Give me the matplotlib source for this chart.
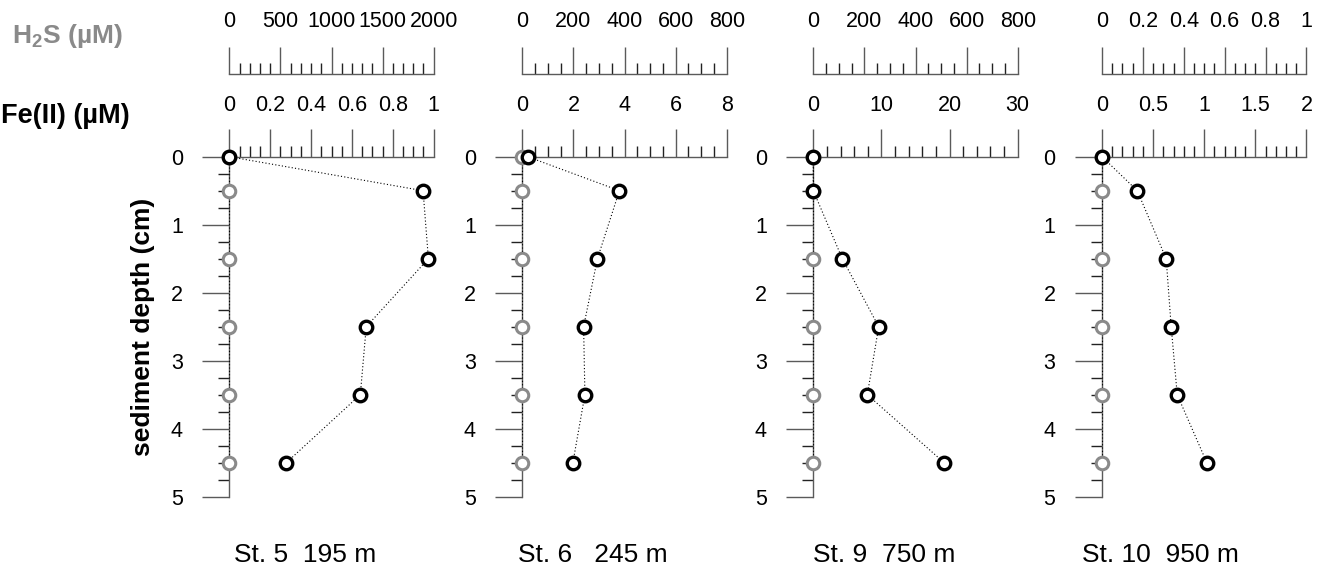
import matplotlib
matplotlib.use('Agg')
import matplotlib.pyplot as plt
from matplotlib.ticker import MultipleLocator, FuncFormatter

plt.rcParams['font.family'] = ['Liberation Sans', 'DejaVu Sans']
plt.rcParams['mathtext.fontset'] = 'custom'
plt.rcParams['mathtext.rm'] = 'Liberation Sans'
plt.rcParams['mathtext.bf'] = 'Liberation Sans:bold'

# data
depth = [0, 0.5, 1.5, 2.5, 3.5, 4.5]
stations = ['St. 5  195 m', 'St. 6   245 m', 'St. 9  750 m', 'St. 10  950 m']
fe_st5 = [0, 0.948, 0.974, 0.67, 0.641, 0.279]
fe_st6 = [0.21, 3.8, 2.94, 2.4, 2.45, 1.98]
fe_st9 = [0, 0, 4.26, 9.6, 7.93, 19.2]
fe_st10 = [0, 0.345, 0.628, 0.677, 0.736, 1.026]
h2s_st5 = [0, 0, 0, 0, 0, 0]
h2s_st6 = [0, 0, 0, 0, 0, 0]
h2s_st9 = [0, 0, 0, 0, 0, 0]
h2s_st10 = [0, 0, 0, 0, 0, 0]
fe_all = [fe_st5, fe_st6, fe_st9, fe_st10]
h2s_all = [h2s_st5, h2s_st6, h2s_st9, h2s_st10]

# axis ranges (max, major, minor)
fe_axis = [(1, 0.2, 0.05), (8, 2, 0.5), (30, 10, 2), (2, 0.5, 0.1)]
h2s_axis = [(2000, 500, 100), (800, 200, 50), (800, 200, 50), (1, 0.2, 0.05)]

W, H = 1320, 573
fig = plt.figure(figsize=(W / 100, H / 100), dpi=100)

x0s = [229.3, 522.3, 813.3, 1102]
pw = 204.4
ytop, ybot = 156.7, 496.7
lab_x = [234, 518, 813, 1082]

major_c = '#5a5a5a'
minor_c = '#222222'
fmt = FuncFormatter(lambda v, p: '{:g}'.format(round(v, 6)))
tsize = 15.5

for i in range(4):
    ax = fig.add_axes([x0s[i] / W, 1 - ybot / H, pw / W, (ybot - ytop) / H])
    tw = ax.twiny()
    ax.set_zorder(tw.get_zorder() + 1)
    ax.patch.set_visible(False)

    fmax, fmaj, fmin = fe_axis[i]
    hmax, hmaj, hmin = h2s_axis[i]
    tw.set_xlim(0, hmax)

    # H2S (grey) drawn through the twin scale
    ax.plot(h2s_all[i], depth, linestyle=(0, (1, 2)), color='black', lw=0.8,
            marker='o', ms=9, mew=2.2, mec='#8a8a8a', mfc='white',
            transform=tw.transData, clip_on=False, zorder=3)
    # Fe(II) (black)
    ax.plot(fe_all[i], depth, linestyle=(0, (1, 2)), color='black', lw=0.8,
            marker='o', ms=9, mew=2.4, mec='black', mfc='white',
            clip_on=False, zorder=4)

    ax.set_xlim(0, fmax)
    ax.set_ylim(5, 0)
    tw.set_xlim(0, hmax)

    for s in ['right', 'bottom']:
        ax.spines[s].set_visible(False)
    ax.spines['top'].set_color(major_c)
    ax.spines['left'].set_color(major_c)
    ax.spines['top'].set_linewidth(1)
    ax.spines['left'].set_linewidth(1)

    ax.xaxis.tick_top()
    ax.xaxis.set_major_locator(MultipleLocator(fmaj))
    ax.xaxis.set_minor_locator(MultipleLocator(fmin))
    ax.xaxis.set_major_formatter(fmt)
    ax.yaxis.set_major_locator(MultipleLocator(1))
    ax.yaxis.set_minor_locator(MultipleLocator(0.25))
    ax.tick_params(axis='x', which='major', direction='out', length=20, width=1,
                   color=major_c, labelsize=tsize, pad=9.5)
    ax.tick_params(axis='x', which='minor', direction='out', length=8, width=1,
                   color=minor_c)
    ax.tick_params(axis='y', which='major', direction='out', length=19.5, width=1,
                   color=major_c, labelsize=tsize, pad=14)
    ax.tick_params(axis='y', which='minor', direction='out', length=8, width=1,
                   color=minor_c)

    for s in ['left', 'right', 'bottom']:
        tw.spines[s].set_visible(False)
    tw.spines['top'].set_position(('outward', 59.5))
    tw.spines['top'].set_color(major_c)
    tw.spines['top'].set_linewidth(1)
    tw.xaxis.set_major_locator(MultipleLocator(hmaj))
    tw.xaxis.set_minor_locator(MultipleLocator(hmin))
    tw.xaxis.set_major_formatter(fmt)
    tw.tick_params(axis='x', which='major', direction='out', length=19.5, width=1,
                   color=major_c, labelsize=tsize, pad=11)
    tw.tick_params(axis='x', which='minor', direction='out', length=8, width=1,
                   color=minor_c)

    fig.text(lab_x[i] / W, 1 - 555 / H, stations[i], fontsize=19,
             ha='left', va='center')

fig.text(12 / W, 1 - 36 / H, r'H$_\mathbf{2}$S (µM)', fontsize=19,
         fontweight='bold', color='#8a8a8a', ha='left', va='center')
fig.text(1 / W, 1 - 116 / H, 'Fe(II) (µM)', fontsize=19.5,
         fontweight='bold', color='black', ha='left', va='center')
fig.text(143 / W, 1 - 327 / H, 'sediment depth (cm)', fontsize=19,
         fontweight='bold', rotation=90, ha='center', va='center')

fig.savefig('out.png', dpi=100)
